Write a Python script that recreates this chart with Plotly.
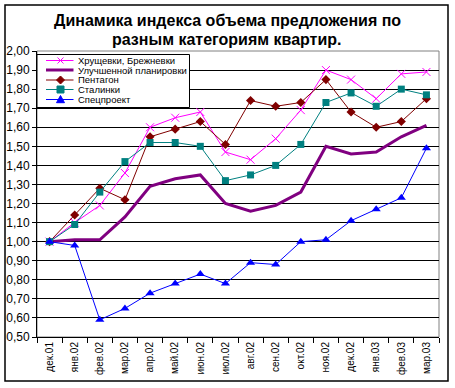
import plotly.graph_objects as go

categories = ["дек.01", "янв.02", "фев.02", "мар.02", "апр.02", "май.02", "июн.02", "июл.02",
              "авг.02", "сен.02", "окт.02", "ноя.02", "дек.02", "янв.03", "фев.03", "мар.03"]

khrushchevki = [1.00, 1.10, 1.19, 1.36, 1.60, 1.65, 1.68, 1.47, 1.43, 1.54, 1.69, 1.90, 1.85, 1.75, 1.88, 1.89]
uluchshennoy = [1.00, 1.01, 1.01, 1.13, 1.29, 1.33, 1.35, 1.20, 1.16, 1.19, 1.26, 1.50, 1.46, 1.47, 1.55, 1.61]
pentagon = [1.00, 1.14, 1.28, 1.22, 1.55, 1.59, 1.63, 1.51, 1.74, 1.71, 1.73, 1.85, 1.68, 1.60, 1.63, 1.75]
stalinki = [1.00, 1.09, 1.26, 1.42, 1.52, 1.52, 1.50, 1.32, 1.35, 1.40, 1.51, 1.73, 1.78, 1.71, 1.80, 1.77]
specproekt = [1.00, 0.98, 0.59, 0.65, 0.73, 0.78, 0.83, 0.78, 0.89, 0.88, 1.00, 1.01, 1.11, 1.17, 1.23, 1.49]

y_ticks = [0.5, 0.6, 0.7, 0.8, 0.9, 1.0, 1.1, 1.2, 1.3, 1.4, 1.5, 1.6, 1.7, 1.8, 1.9, 2.0]

title_lines = ["Динамика индекса объема предложения по", "разным категориям квартир."]

series = [
    ("Хрущевки, Брежневки", khrushchevki, "#FF00FF", 1, "x"),
    ("Улучшенной планировки", uluchshennoy, "#800080", 3, None),
    ("Пентагон", pentagon, "#800000", 1, "diamond"),
    ("Сталинки", stalinki, "#008080", 1, "square"),
    ("Спецпроект", specproekt, "#0000FF", 1, "triangle"),
]

FONT = "Liberation Sans, Arial, sans-serif"

L, R, T, B = 37, 16, 51, 51
W, H = 455, 388
pw, ph = W - L - R, H - T - B


def px_x(p):
    return (p - L) / pw


def px_y(p):
    return 1 - (p - T) / ph


fig = go.Figure()
for name, vals, color, width, sym in series:
    if sym is None:
        fig.add_trace(go.Scatter(x=categories, y=vals, name=name, mode="lines",
                                 line=dict(color=color, width=width)))
    elif sym == "x":
        fig.add_trace(go.Scatter(x=categories, y=vals, name=name, mode="lines+markers",
                                 line=dict(color=color, width=width),
                                 marker=dict(symbol="x-thin", size=8, line=dict(color=color, width=1))))
    else:
        psym = {"diamond": "diamond", "square": "square", "triangle": "triangle-up"}[sym]
        size = {"diamond": 7, "square": 7, "triangle": 8}[sym]
        fig.add_trace(go.Scatter(x=categories, y=vals, name=name, mode="lines+markers",
                                 line=dict(color=color, width=width),
                                 marker=dict(symbol=psym, size=size, color=color)))

shapes = [
    # plot area border (grey)
    dict(type="rect", xref="paper", yref="paper", x0=0, x1=1, y0=0, y1=1,
         line=dict(color="#808080", width=1), layer="below"),
    # outer chart frame
    dict(type="rect", xref="paper", yref="paper",
         x0=px_x(5), x1=px_x(448), y0=px_y(381), y1=px_y(5),
         line=dict(color="black", width=1.5)),
    # legend box
    dict(type="rect", xref="paper", yref="paper",
         x0=px_x(37), x1=px_x(189.5), y0=px_y(107.5), y1=px_y(54.5),
         line=dict(color="black", width=1), fillcolor="white", layer="above"),
]
annotations = []

# manual legend (compact, like the original)
row_y = [60.5, 70, 80, 89.5, 99.5]
for (name, vals, color, width, sym), yy in zip(series, row_y):
    shapes.append(dict(type="line", xref="paper", yref="paper",
                       x0=px_x(46), x1=px_x(73.5), y0=px_y(yy), y1=px_y(yy),
                       line=dict(color=color, width=width), layer="above"))
    cx = 60.5
    if sym == "x":
        s = 3
        for dx in (-1, 1):
            shapes.append(dict(type="line", xref="paper", yref="paper",
                               x0=px_x(cx - s), x1=px_x(cx + s),
                               y0=px_y(yy - s * dx), y1=px_y(yy + s * dx),
                               line=dict(color=color, width=1), layer="above"))
    elif sym == "diamond":
        s = 4
        path = "M {} {} L {} {} L {} {} L {} {} Z".format(
            px_x(cx), px_y(yy - s), px_x(cx + s), px_y(yy),
            px_x(cx), px_y(yy + s), px_x(cx - s), px_y(yy))
        shapes.append(dict(type="path", xref="paper", yref="paper", path=path,
                           fillcolor=color, line=dict(color=color, width=1), layer="above"))
    elif sym == "square":
        s = 3.5
        shapes.append(dict(type="rect", xref="paper", yref="paper",
                           x0=px_x(cx - s), x1=px_x(cx + s), y0=px_y(yy + s), y1=px_y(yy - s),
                           fillcolor=color, line=dict(color=color, width=1), layer="above"))
    elif sym == "triangle":
        s = 4
        path = "M {} {} L {} {} L {} {} Z".format(
            px_x(cx), px_y(yy - s), px_x(cx + s), px_y(yy + s * 0.8),
            px_x(cx - s), px_y(yy + s * 0.8))
        shapes.append(dict(type="path", xref="paper", yref="paper", path=path,
                           fillcolor=color, line=dict(color=color, width=1), layer="above"))
    annotations.append(dict(text=name, xref="paper", yref="paper",
                            x=px_x(75.5), y=px_y(yy), xanchor="left", yanchor="middle",
                            showarrow=False, font=dict(family=FONT, size=9.5, color="black")))

# title as two lines
for txt, yy in zip(title_lines, [20, 40]):
    annotations.append(dict(text="<b>" + txt + "</b>", xref="paper", yref="paper",
                            x=px_x(227), y=px_y(yy), xanchor="center", yanchor="middle",
                            showarrow=False, font=dict(family=FONT, size=16, color="black")))

fig.update_layout(
    width=W, height=H,
    margin=dict(l=L, r=R, t=T, b=B),
    paper_bgcolor="white", plot_bgcolor="white",
    separators=", ",
    font=dict(family=FONT, size=11, color="black"),
    showlegend=False,
    xaxis=dict(type="category", showline=True, linecolor="black", linewidth=1,
               ticks="outside", tickson="boundaries", ticklen=5, tickcolor="black",
               tickangle=-90, showgrid=False, tickfont=dict(family=FONT, size=10),
               range=[-0.5, 15.5], automargin=False),
    yaxis=dict(range=[0.5, 2.0], tickvals=y_ticks, tickformat=".2f",
               showline=True, linecolor="black", linewidth=1,
               ticks="outside", ticklen=4, tickcolor="black",
               showgrid=True, gridcolor="black", gridwidth=1,
               tickfont=dict(family=FONT, size=12), zeroline=False, automargin=False),
    shapes=shapes,
    annotations=annotations,
)

fig.write_html("out.html", config={"displayModeBar": False},
               post_script="document.body.style.margin='0px';")
